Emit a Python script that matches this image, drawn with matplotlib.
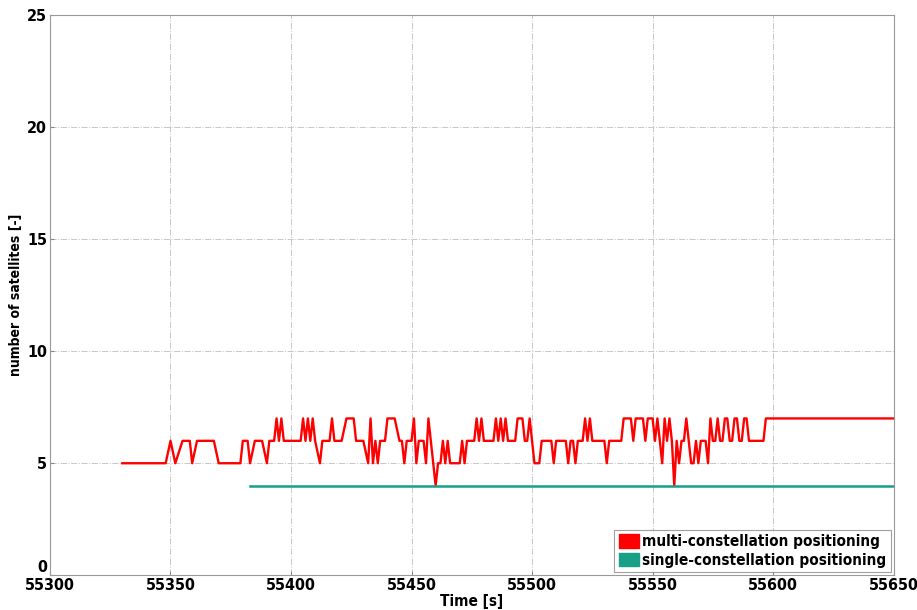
import matplotlib
matplotlib.use("Agg")
import matplotlib.pyplot as plt
from matplotlib.patches import Patch

plt.rcParams['font.family'] = ['DejaVu Sans']
plt.rcParams['font.stretch'] = 'condensed'
plt.rcParams['font.weight'] = 'bold'

# number of satellites used, multi-constellation (breakpoints)
multi_time = [55330, 55348, 55350, 55352, 55355, 55358, 55359, 55361, 55368, 55370,
              55379, 55380, 55382, 55383, 55385, 55388, 55390, 55391, 55393, 55394,
              55395, 55396, 55397, 55404, 55405, 55406, 55407, 55408, 55409, 55410,
              55412, 55413, 55416, 55417, 55418, 55421, 55423, 55426, 55427, 55430,
              55432, 55433, 55434, 55435, 55436, 55437, 55439, 55440, 55443, 55445,
              55446, 55447, 55448, 55450, 55451, 55452, 55453, 55455, 55456, 55457,
              55458, 55459, 55460, 55461, 55462, 55463, 55464, 55465, 55466, 55470,
              55471, 55472, 55473, 55476, 55477, 55478, 55479, 55480, 55484, 55485,
              55486, 55487, 55488, 55489, 55490, 55493, 55494, 55496, 55497, 55498,
              55499, 55500, 55501, 55503, 55504, 55508, 55509, 55510, 55514, 55515,
              55516, 55517, 55518, 55519, 55521, 55522, 55523, 55524, 55525, 55530,
              55531, 55532, 55537, 55538, 55541, 55542, 55543, 55546, 55547, 55548,
              55550, 55551, 55552, 55553, 55554, 55555, 55556, 55557, 55558, 55559,
              55560, 55561, 55562, 55563, 55564, 55565, 55566, 55567, 55568, 55569,
              55570, 55572, 55573, 55574, 55575, 55576, 55577, 55578, 55579, 55580,
              55581, 55582, 55583, 55584, 55585, 55586, 55587, 55588, 55589, 55590,
              55594, 55596, 55597, 55650]
multi_sats = [5, 5, 6, 5, 6, 6, 5, 6, 6, 5,
              5, 6, 6, 5, 6, 6, 5, 6, 6, 7,
              6, 7, 6, 6, 7, 6, 7, 6, 7, 6,
              5, 6, 6, 7, 6, 6, 7, 7, 6, 6,
              5, 7, 5, 6, 5, 6, 6, 7, 7, 6,
              6, 5, 6, 6, 7, 5, 6, 6, 5, 7,
              6, 5, 4, 5, 5, 6, 5, 6, 5, 5,
              6, 5, 6, 6, 7, 6, 7, 6, 6, 7,
              6, 7, 6, 7, 6, 6, 7, 7, 6, 6,
              7, 6, 5, 5, 6, 6, 5, 6, 6, 5,
              6, 6, 5, 6, 6, 7, 6, 7, 6, 6,
              5, 6, 6, 7, 7, 6, 7, 7, 6, 7,
              7, 6, 7, 6, 5, 7, 6, 7, 6, 4,
              6, 5, 6, 6, 7, 6, 5, 5, 6, 5,
              6, 6, 5, 7, 6, 6, 7, 6, 6, 7,
              7, 6, 6, 7, 7, 6, 6, 7, 7, 6,
              6, 6, 7, 7]

# single-constellation
single_time = [55383, 55650]
single_sats = [4, 4]

x_ticks = [55300, 55350, 55400, 55450, 55500, 55550, 55600, 55650]
y_ticks = [0, 5, 10, 15, 20, 25]

red = '#ff0000'
green = '#17a086'

fig = plt.figure(figsize=(9.17, 6.10), dpi=100)
ax = fig.add_axes([0.0545, 0.057, 0.920, 0.918])

ax.plot(multi_time, multi_sats, color=red, linewidth=1.7)
ax.plot(single_time, single_sats, color=green, linewidth=1.8)

ax.set_xlim(55300, 55650)
ax.set_ylim(0, 25)
ax.set_xticks(x_ticks)
ax.set_yticks(y_ticks)
ax.tick_params(direction='in', length=3, color='#888888', labelsize=11.5, pad=2)
for lab in ax.get_xticklabels() + ax.get_yticklabels():
    lab.set_fontweight('bold')
# the "0" sits just above the corner, clear of the first x label
ax.get_yticklabels()[0].set_verticalalignment('bottom')
ax.grid(True, color='#c8c8c8', linestyle='-.', linewidth=0.7)
for sp in ax.spines.values():
    sp.set_color('#999999')

ax.set_xlabel('Time [s]', fontsize=11, fontweight='bold', labelpad=1)
ax.set_ylabel('number of satellites [-]', fontsize=10, fontweight='bold', labelpad=3)

handles = [Patch(facecolor=red, edgecolor=red, label='multi-constellation positioning'),
           Patch(facecolor=green, edgecolor=green, label='single-constellation positioning')]
leg = ax.legend(handles=handles, loc='lower right', fontsize=11, frameon=True,
                fancybox=False, borderaxespad=0.2, handlelength=1.3, handleheight=1.0,
                handletextpad=0.2, borderpad=0.3, labelspacing=0.2)
leg.get_frame().set_edgecolor('#888888')
leg.get_frame().set_linewidth(0.8)
for t in leg.get_texts():
    t.set_fontweight('bold')

fig.savefig('out.png', dpi=100)
